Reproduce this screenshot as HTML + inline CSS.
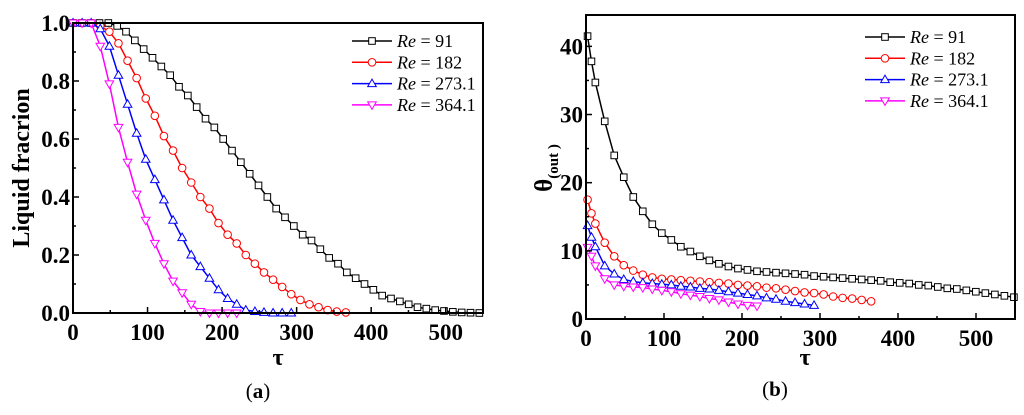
<!DOCTYPE html>
<html><head><meta charset="utf-8"><style>
body{margin:0;background:#fff;}
svg text{font-family:"Liberation Serif",serif;}
</style></head><body>
<svg id="svg" width="1024" height="410" xmlns="http://www.w3.org/2000/svg"></svg>
<script>
// ---- Data (a) liquid fraction ----
const a_step91 = 11.85;
const a_step = 12.2;
const a_re91 = [1,1,1,1,1,0.99,0.97,0.94,0.91,0.88,0.85,0.82,0.78,0.75,0.71,0.67,0.64,0.60,0.56,0.52,0.48,0.44,0.40,0.36,0.33,0.30,0.27,0.25,0.22,0.19,0.17,0.14,0.12,0.10,0.08,0.06,0.05,0.04,0.03,0.02,0.015,0.01,0.007,0.004,0.002,0.001,0];
const a_re182 = [1,1,1,0.99,0.97,0.93,0.87,0.81,0.74,0.68,0.61,0.56,0.50,0.45,0.40,0.36,0.31,0.27,0.24,0.20,0.17,0.14,0.115,0.09,0.065,0.045,0.03,0.02,0.01,0.005,0.002];
const a_re273 = [1,1,1,0.98,0.92,0.82,0.72,0.62,0.53,0.46,0.39,0.32,0.26,0.20,0.16,0.12,0.08,0.05,0.03,0.01,0.005,0.002,0,0,0];
const a_re364 = [1,1,1,0.92,0.79,0.64,0.52,0.41,0.32,0.24,0.17,0.11,0.07,0.03,0.005,0,0,0,0];
const a_xticks = [0,100,200,300,400,500];
const a_yticks = [0.0,0.2,0.4,0.6,0.8,1.0];
// ---- Data (b) theta out ----
const b_tauHead = [2,7,12];
const b_tauStart = 24, b_tauStep = 12.2;
const b_re91 = [41.5,37.8,34.7,29,24,20.8,17.9,15.8,13.9,12.6,11.6,10.6,9.9,9.2,8.6,8.1,7.7,7.4,7.2,7.0,6.9,6.8,6.7,6.6,6.5,6.3,6.2,6.1,6.0,5.9,5.8,5.7,5.6,5.4,5.3,5.2,5.0,4.9,4.7,4.5,4.4,4.2,4.0,3.8,3.6,3.4,3.2];
const b_re182 = [17.5,15.5,14,11.2,9.2,7.9,7.1,6.5,6.1,5.9,5.8,5.7,5.6,5.5,5.4,5.3,5.2,5.0,4.9,4.8,4.6,4.5,4.3,4.1,3.9,3.8,3.6,3.3,3.1,3.0,2.8,2.6];
const b_re273 = [13.7,12,10.6,7.8,6.6,5.8,5.5,5.3,5.2,5.1,5.0,4.8,4.7,4.5,4.4,4.2,4.0,3.8,3.6,3.4,3.1,2.9,2.6,2.4,2.2,2.0];
const b_re364 = [10.5,9.2,7.8,5.9,5.0,4.8,4.7,4.6,4.4,4.2,4.0,3.7,3.5,3.3,3.0,2.8,2.5,2.2,2.0,1.9];
const b_xticks = [0,100,200,300,400,500];
const b_yticks = [0,10,20,30,40];
const labels = ["Re = 91","Re = 182","Re = 273.1","Re = 364.1"];

const NS="http://www.w3.org/2000/svg", svg=document.getElementById('svg');
function el(t,at,p){const e=document.createElementNS(NS,t);for(const k in at)e.setAttribute(k,at[k]);(p||svg).appendChild(e);return e;}
const colors=["#000","#f00","#00f","#f0f"], shapes=["sq","ci","up","dn"];
function marker(g,s,x,y,c){let m;
 if(s=="sq")m=el('rect',{x:x-3.3,y:y-3.3,width:6.6,height:6.6},g);
 else if(s=="ci")m=el('circle',{cx:x,cy:y,r:3.8},g);
 else if(s=="up")m=el('polygon',{points:`${x},${y-4.5} ${x-4.3},${y+3} ${x+4.3},${y+3}`},g);
 else m=el('polygon',{points:`${x},${y+4.5} ${x-4.3},${y-3} ${x+4.3},${y-3}`},g);
 m.setAttribute('fill','#fff');m.setAttribute('stroke',c);m.setAttribute('stroke-width','1');
 
 }
function panel(P){
 const g=el('g',{});
 const X=v=>P.x0+(v-P.xmin)/(P.xmax-P.xmin)*(P.x1-P.x0), Y=v=>P.y1-(v-P.ymin)/(P.ymax-P.ymin)*(P.y1-P.y0);
 P.series.forEach((s,i)=>{const sg=el('g',{},g);
  const pts=s.vals.map((v,j)=>[X(s.xs[j]),Y(v)]);
  el('polyline',{points:pts.map(p=>p.join(',')).join(' '),fill:'none',stroke:colors[i],'stroke-width':1.5},sg);
  pts.forEach(p=>marker(sg,shapes[i],p[0],p[1],colors[i]));});
 const fr=el('rect',{x:P.x0,y:P.y0,width:P.x1-P.x0,height:P.y1-P.y0,fill:'none',stroke:'#000','stroke-width':2},g);
 
 P.xt.forEach((t,i)=>{const x=X(t);el('line',{x1:x,x2:x,y1:P.y1,y2:P.y1-6,stroke:'#000','stroke-width':1.5},g);
  if(i<P.xt.length-1){const xm=X(t+(P.xt[1]-P.xt[0])/2);el('line',{x1:xm,x2:xm,y1:P.y1,y2:P.y1-3,stroke:'#000','stroke-width':1.5},g);}
  const tx=el('text',{x:x,y:P.y1+27,'text-anchor':'middle','font-size':23,'font-weight':'bold'},g);tx.textContent=t;
  });
 P.yt.forEach((t,i)=>{const y=Y(t);el('line',{x1:P.x0,x2:P.x0+6,y1:y,y2:y,stroke:'#000','stroke-width':1.5},g);
  const ym=Y(t+(P.yt[1]-P.yt[0])/2);if(ym>P.y0)el('line',{x1:P.x0,x2:P.x0+3,y1:ym,y2:ym,stroke:'#000','stroke-width':1.5},g);
  const tx=el('text',{x:P.x0-3,y:y+8,'text-anchor':'end','font-size':23,'font-weight':'bold'},g);tx.textContent=P.fmt(t);
  });
 const lg=el('g',{},g);
 labels.forEach((l,i)=>{const y=P.ly+i*21.3;const eg=el('g',{},lg);
  el('line',{x1:P.lx,x2:P.lx+40,y1:y,y2:y,stroke:colors[i],'stroke-width':1.5},eg);marker(eg,shapes[i],P.lx+20,y,colors[i]);
  const t=el('text',{x:P.lx+45,y:y+6,'font-size':18},eg);t.innerHTML='<tspan font-style="italic">Re</tspan> = '+l.split('= ')[1];});
 return g;}
const seq=(n,st,d)=>Array.from({length:n},(_,i)=>st+i*d);
panel({name:'chart-a',x0:73,x1:483,y0:23,y1:313,xmin:0,xmax:550,ymin:0,ymax:1,xt:a_xticks,yt:a_yticks,fmt:v=>v.toFixed(1),lx:352,ly:41,
 series:[a_re91,a_re182,a_re273,a_re364].map((v,i)=>({vals:v,xs:seq(v.length,0,i==0?a_step91:a_step)}))});
panel({name:'chart-b',x0:586,x1:1015,y0:15,y1:319,xmin:0,xmax:550,ymin:0,ymax:44.6,xt:b_xticks,yt:b_yticks,fmt:v=>v,lx:865,ly:37,
 series:[b_re91,b_re182,b_re273,b_re364].map(v=>({vals:v,xs:b_tauHead.concat(seq(v.length-3,b_tauStart,b_tauStep))}))});
function txt(s,at,name){const t=el('text',at);t.innerHTML=s;}
txt('Liquid fracrion',{x:0,y:0,transform:'translate(29,168) rotate(-90)','text-anchor':'middle','font-size':24,'font-weight':'bold'},'y-axis-title-a');
txt('τ',{x:278,y:365,'text-anchor':'middle','font-size':24,'font-weight':'bold'},'x-axis-title-a');
txt('(<tspan font-weight="bold">a</tspan>)',{x:258,y:398,'text-anchor':'middle','font-size':21},'panel-label-a');
txt('θ<tspan font-size="15" dy="6">(out )</tspan>',{x:0,y:0,transform:'translate(552,168) rotate(-90)','text-anchor':'middle','font-size':25,'font-weight':'bold'},'y-axis-title-b');
txt('τ',{x:805,y:365,'text-anchor':'middle','font-size':24,'font-weight':'bold'},'x-axis-title-b');
txt('(<tspan font-weight="bold">b</tspan>)',{x:775,y:396,'text-anchor':'middle','font-size':21},'panel-label-b');
</script>
</body></html>
